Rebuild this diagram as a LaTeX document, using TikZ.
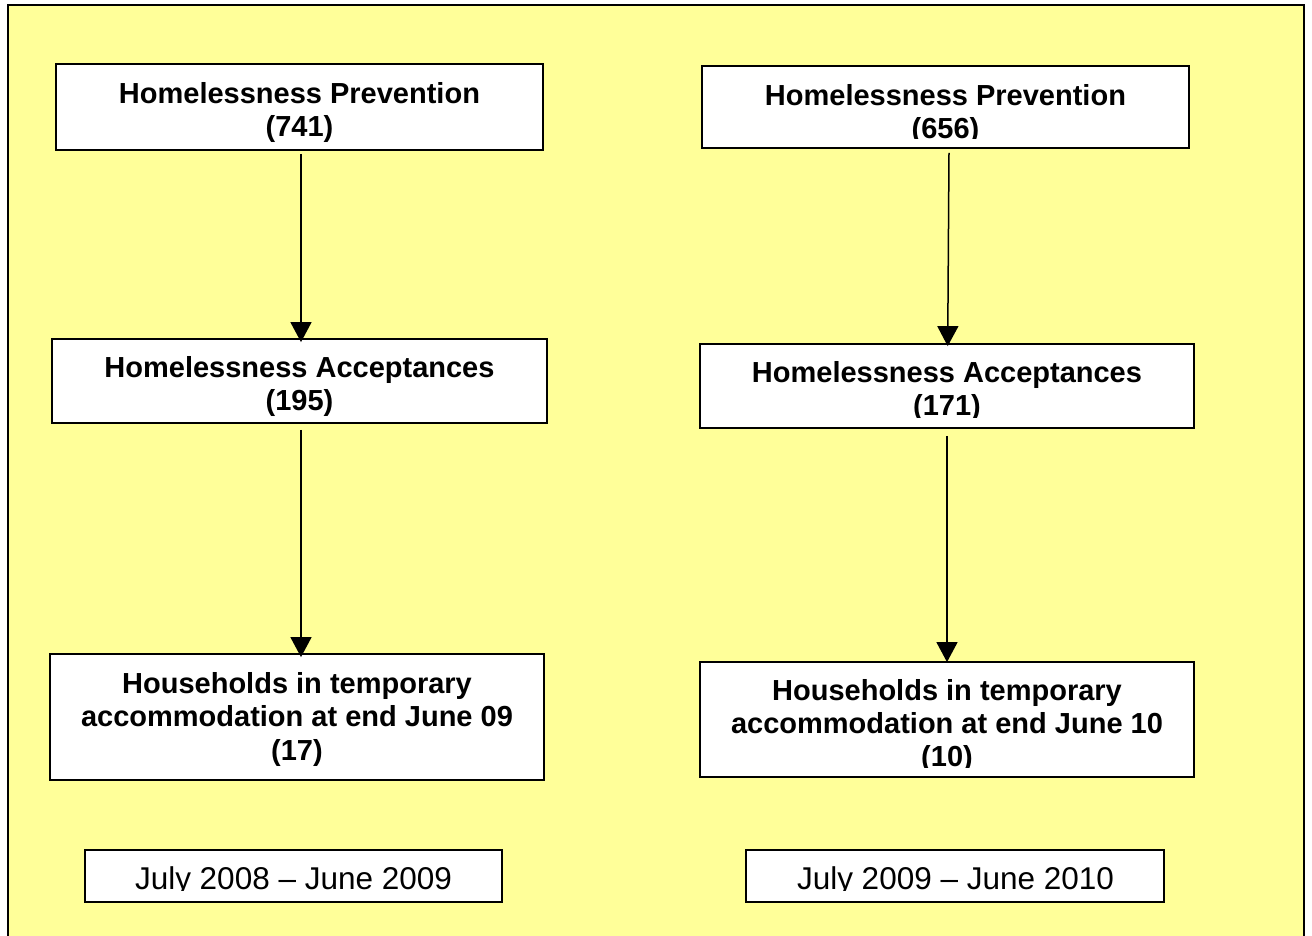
\documentclass[tikz,border=0pt]{standalone}
\usepackage{fontspec}
\setmainfont{Liberation Sans}
\usetikzlibrary{arrows.meta}
\definecolor{bgyellow}{HTML}{FFFF99}
\begin{document}
\begin{tikzpicture}[x=1pt,y=-1pt,
  box/.style={draw=black, line width=1.8pt, fill=white, inner sep=0pt, rectangle},
  bline/.style={anchor=base, inner sep=0pt, font=\fontsize{29}{33}\selectfont\bfseries},
  pline/.style={anchor=base, inner sep=0pt, font=\fontsize{31.5}{36}\selectfont},
  arr/.style={line width=1.5pt, -{Triangle[length=20pt,width=21pt]}}]
\useasboundingbox[fill=white] (0,0) rectangle (1312,936);
\filldraw[fill=bgyellow, draw=black, line width=2pt] (8,5) rectangle (1304,950);

% boxes
\node[box, minimum width=487pt, minimum height=86pt] (L1) at (299.5,107) {};
\node[box, minimum width=487pt, minimum height=82pt] (R1) at (945.5,107) {};
\node[box, minimum width=495pt, minimum height=84pt] (L2) at (299.5,381) {};
\node[box, minimum width=494pt, minimum height=84pt] (R2) at (947,386) {};
\node[box, minimum width=494pt, minimum height=126pt] (L3) at (297,717) {};
\node[box, minimum width=494pt, minimum height=115pt] (R3) at (947,719.5) {};
\node[box, minimum width=417pt, minimum height=52pt] (L4) at (293.5,876) {};
\node[box, minimum width=418pt, minimum height=52pt] (R4) at (955,876) {};

% texts
\node[bline] (L1a) at (299.5,104) {Homelessness Prevention};
\node[bline] (L1b) at (299.5,137) {(741)};
\begin{scope}
  \clip (702,66) rectangle (1189,139);
  \node[bline] (R1a) at (945.5,105.5) {Homelessness Prevention};
  \node[bline] (R1b) at (945.5,138.6) {(656)};
\end{scope}
\node[bline] (L2a) at (299.5,377.5) {Homelessness Acceptances};
\node[bline] (L2b) at (299.5,410.5) {(195)};
\begin{scope}
  \clip (700,344) rectangle (1194,417.5);
  \node[bline] (R2a) at (947,382.5) {Homelessness Acceptances};
  \node[bline] (R2b) at (947,415.5) {(171)};
\end{scope}
\node[bline] (L3a) at (297,693) {Households in temporary};
\node[bline] (L3b) at (297,726.5) {accommodation at end June 09};
\node[bline] (L3c) at (297,760) {(17)};
\begin{scope}
  \clip (700,662) rectangle (1194,767);
  \node[bline] (R3a) at (947,700) {Households in temporary};
  \node[bline] (R3b) at (947,733) {accommodation at end June 10};
  \node[bline] (R3c) at (947,766) {(10)};
\end{scope}
\begin{scope}
  \clip (85,850) rectangle (502,890);
  \node[pline] (L4a) at (293.5,889.5) {July 2008 – June 2009};
\end{scope}
\begin{scope}
  \clip (746,850) rectangle (1164,890);
  \node[pline] (R4a) at (955.5,889.5) {July 2009 – June 2010};
\end{scope}

% connectors
\draw[arr] ([xshift=1.5pt,yshift=-3pt]L1.south) -- ([xshift=1.5pt,yshift=-4pt]L2.north);
\draw[arr] ([xshift=1.5pt,yshift=-6pt]L2.south) -- ([xshift=4pt,yshift=-4pt]L3.north);
\draw[arr] ([xshift=3.5pt,yshift=-4pt]R1.south) -- ([xshift=0.7pt,yshift=-3pt]R2.north);
\draw[arr] ([yshift=-7pt]R2.south) -- ([yshift=-1pt]R3.north);
\end{tikzpicture}
\end{document}
